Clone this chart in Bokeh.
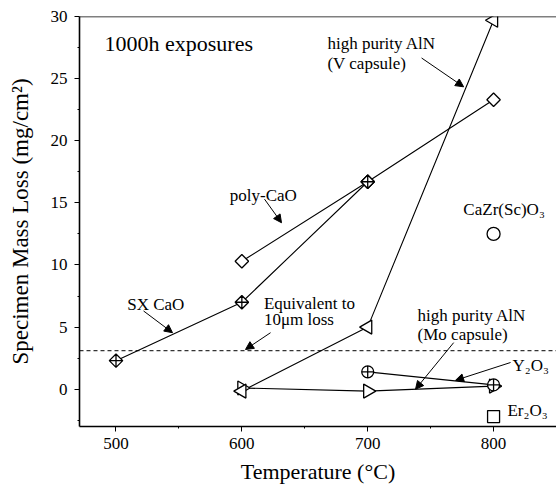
import math
from bokeh.plotting import figure
from bokeh.models import (Range1d, Span, Label, Arrow, NormalHead, FixedTicker)
from bokeh.embed import file_html
from bokeh.resources import INLINE

FONT = "Liberation Serif"

# ---- data ----
sx_cao_t = [500, 600, 700]
sx_cao_loss = [2.3, 7.0, 16.7]

poly_cao_t = [600, 700, 800]
poly_cao_loss = [10.3, 16.7, 23.3]

aln_v_t = [600, 700, 800]
aln_v_loss = [-0.15, 5.0, 29.7]

aln_mo_t = [600, 700, 800]
aln_mo_loss = [0.1, -0.15, 0.25]

y2o3_t = [700, 800]
y2o3_loss = [1.4, 0.35]

cazr_t = [800]
cazr_loss = [12.5]

er2o3_t = [800]
er2o3_loss = [-2.2]

equiv_10um = 3.1

x_ticks = [500, 600, 700, 800]
y_ticks = [0, 5, 10, 15, 20, 25, 30]

p = figure(width=556, height=486, output_backend="svg", toolbar_location=None,
           x_range=Range1d(471, 850), y_range=Range1d(-3, 30),
           min_border_left=79, min_border_right=0, min_border_top=16, min_border_bottom=0)
p.outline_line_color = None
p.grid.visible = False
p.background_fill_color = "white"

for ax in (p.xaxis[0], p.yaxis[0]):
    ax.axis_line_width = 1.6
    ax.axis_line_color = "black"
    ax.major_tick_line_color = "black"
    ax.minor_tick_line_color = "black"
    ax.major_tick_in = 0
    ax.major_tick_out = 5
    ax.minor_tick_in = 0
    ax.minor_tick_out = 2
    ax.major_label_text_font = FONT
    ax.major_label_text_font_size = "17px"
    ax.major_label_text_color = "black"
    ax.axis_label_text_font = FONT
    ax.axis_label_text_font_size = "22px"
    ax.axis_label_text_font_style = "normal"
    ax.axis_label_text_color = "black"

p.xaxis.ticker = FixedTicker(ticks=x_ticks, minor_ticks=[550, 650, 750])
p.yaxis.ticker = FixedTicker(ticks=y_ticks, minor_ticks=[-2.5, 2.5, 7.5, 12.5, 17.5, 22.5, 27.5])
p.xaxis.axis_label = "Temperature (°C)"
p.yaxis.axis_label = "Specimen Mass Loss (mg/cm²)"
p.yaxis.axis_label_text_font_size = "23px"
p.xaxis.major_label_standoff = 6
p.xaxis.axis_label_standoff = 7
p.yaxis.major_label_standoff = 7
p.yaxis.axis_label_standoff = 15

# top border
p.add_layout(Span(location=30, dimension="width", line_color="black", line_width=1.6))

# dashed reference
p.add_layout(Span(location=equiv_10um, dimension="width", line_color="black",
                  line_width=1, line_dash="4 3"))

lw = 1.1
# lines
p.line(sx_cao_t, sx_cao_loss, line_color="black", line_width=lw)
p.line(poly_cao_t, poly_cao_loss, line_color="black", line_width=lw)
p.line(aln_v_t, aln_v_loss, line_color="black", line_width=lw)
p.line(aln_mo_t, aln_mo_loss, line_color="black", line_width=lw)
p.line(y2o3_t, y2o3_loss, line_color="black", line_width=lw)

mk = dict(line_color="black", fill_color="white", line_width=1.3)
p.scatter(poly_cao_t, poly_cao_loss, marker="square", size=9.5, angle=math.pi / 4, **mk)
p.scatter(sx_cao_t, sx_cao_loss, marker="square_x", size=9.5, angle=math.pi / 4, **mk)
p.scatter(aln_mo_t, aln_mo_loss, marker="triangle", size=14, angle=-math.pi / 2, **mk)
p.scatter(aln_v_t, aln_v_loss, marker="triangle", size=14, angle=math.pi / 2, **mk)
p.scatter(y2o3_t, y2o3_loss, marker="circle_cross", size=12, **mk)
p.scatter(cazr_t, cazr_loss, marker="circle", size=13, **mk)
p.scatter(er2o3_t, er2o3_loss, marker="square", size=12, **mk)

# labels
def lab(x, y, t, size="17px"):
    p.add_layout(Label(x=x, y=y, text=t, text_font=FONT, text_font_size=size,
                       text_color="black", text_baseline="middle", text_align="left"))

lab(490.9, 27.85, "1000h exposures", "22px")
lab(668, 27.8, "high purity AlN")
lab(668, 26.2, "(V capsule)")
lab(590.4, 15.6, "poly-CaO")
lab(508.9, 6.8, "SX CaO")
lab(617.5, 6.9, "Equivalent to")
lab(617.5, 5.6, "10μm loss")
lab(776, 14.45, "CaZr(Sc)O₃")
lab(739.6, 5.9, "high purity AlN")
lab(739.6, 4.4, "(Mo capsule)")
lab(815, 1.9, "Y₂O₃")
lab(811, -1.68, "Er₂O₃")

def arr(x0, y0, x1, y1):
    p.add_layout(Arrow(end=NormalHead(size=8, fill_color="black", line_color="black"),
                       x_start=x0, y_start=y0, x_end=x1, y_end=y1,
                       line_color="black", line_width=1))

arr(618.0, 15.3, 631.5, 13.4)
arr(521.9, 6.3, 544.9, 4.55)
arr(622.8, 4.55, 602.9, 3.2)
arr(742.8, 26.66, 776.2, 24.34)
arr(768.3, 3.75, 738.0, 0.0)
arr(813.5, 2.15, 769.8, 0.72)

open("out.html", "w").write(file_html(p, INLINE))
